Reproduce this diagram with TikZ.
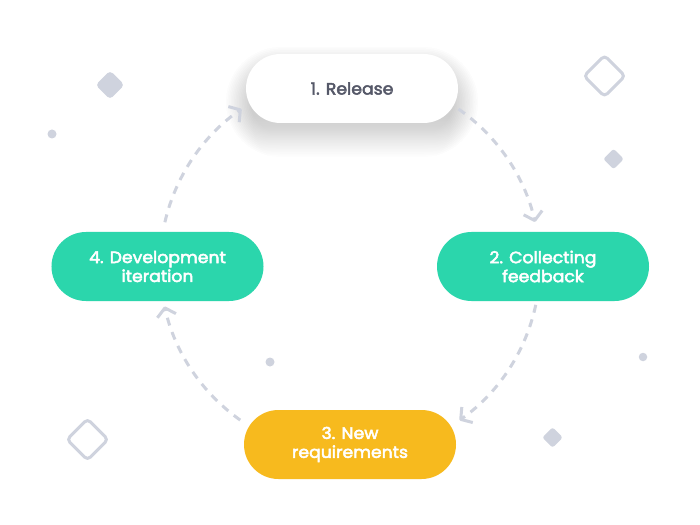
\documentclass[tikz,border=0pt]{standalone}
\usepackage{fontspec}
\setmainfont{Poppins}
\newfontfamily\medfont{Poppins}[FakeBold=3,FakeStretch=1.05]
\usetikzlibrary{arrows.meta,calc}
\definecolor{mint}{HTML}{2BD6AC}
\definecolor{sun}{HTML}{F7BA1E}
\definecolor{deco}{HTML}{CFD3DE}
\definecolor{ink}{HTML}{555868}
\definecolor{shade}{HTML}{9AA2C4}
\begin{document}
\begin{tikzpicture}[x=1bp,y=-1bp,
  pill/.style={rounded corners=34.5bp, minimum width=212bp, minimum height=69bp,
    align=center, inner sep=0pt, font=\medfont\fontsize{16.5}{19}\selectfont},
  flow/.style={draw=deco, line width=3bp, dash pattern=on 8bp off 7bp,
    -{Straight Barb[length=8bp,width=19bp,line join=round]}},
  gem/.style={rotate=45, inner sep=0pt, fill=deco, rounded corners=#1},
  ring/.style={rotate=45, inner sep=0pt, draw=deco, line width=3bp, rounded corners=4bp},
  dot/.style={circle, fill=deco, inner sep=0pt, minimum size=9bp}
]
\useasboundingbox (0,0) rectangle (700,525);
\fill[white] (0,0) rectangle (700,525);

% decorations
\node[gem=4bp, minimum size=20.5bp] (g1) at (110,85) {};
\node[dot] (p1) at (52,134) {};
\node[ring, minimum size=29bp] (r1) at (604.5,76) {};
\node[gem=2.5bp, minimum size=14.5bp] (g2) at (613.5,159) {};
\node[dot, minimum size=8.5bp] (p2) at (643,357) {};
\node[gem=2.5bp, minimum size=14.5bp] (g3) at (552.5,437.5) {};
\node[dot] (p3) at (270,362) {};
\node[ring, minimum size=29bp] (r2) at (87.5,439.5) {};

% soft shadow under the release node
\foreach \i in {0,...,15}{
  \pgfmathsetmacro{\hw}{102+1.6*\i}
  \pgfmathsetmacro{\hh}{31+1.6*\i}
  \fill[shade, fill opacity=0.009, rounded corners=\hh bp]
    (352-\hw,102-\hh) rectangle (352+\hw,102+\hh);
}

% nodes
\node[pill, fill=white, text=ink] (n1) at (352,88.5) {1. Release};
\node[pill, fill=mint, text=white] (n2) at (543,266.5) {2. Collecting\\feedback};
\node[pill, fill=sun, text=white] (n3) at (350,444.5) {3. New\\requirements};
\node[pill, fill=mint, text=white] (n4) at (157.5,266.5) {4. Development\\iteration};

% connectors along a circle
\coordinate (O) at (350,265);
\path (O) ++(-55.2:190) coordinate (a1);
\path (O) ++(12.1:190) coordinate (a2);
\path (O) ++(125.3:190) coordinate (a3);
\path (O) ++(193:190) coordinate (a4);
\draw[flow] (a1) arc[start angle=-55.2, end angle=-13.1, radius=190];
\draw[flow] (a2) arc[start angle=12.1, end angle=54.8, radius=190];
\draw[flow] (a3) arc[start angle=125.3, end angle=167.4, radius=190];
\draw[flow] (a4) arc[start angle=193, end angle=235.2, radius=190];
\end{tikzpicture}
\end{document}
